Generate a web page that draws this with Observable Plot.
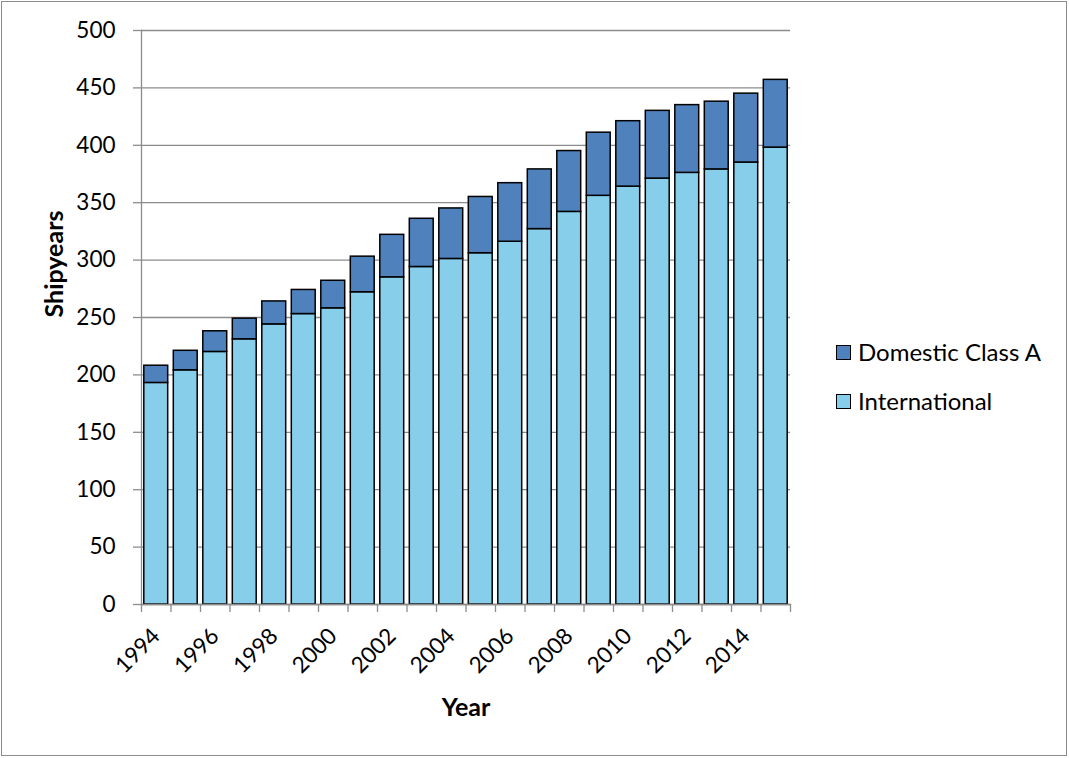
<!DOCTYPE html>
<html><head><meta charset="utf-8">
<script src="https://cdn.jsdelivr.net/npm/d3@7"></script>
<script src="https://cdn.jsdelivr.net/npm/@observablehq/plot@0.6"></script>
<style>
body{margin:0;background:#fff;}
#wrap{position:relative;width:1069px;height:758px;font-family:Lato,"Open Sans",sans-serif;background:#fff;}
#border{position:absolute;left:1px;top:1px;width:1066px;height:755px;border:1px solid #8c8c8c;box-sizing:border-box;pointer-events:none;}
.lg{position:absolute;left:836px;display:flex;align-items:center;font-size:24px;color:#000;white-space:nowrap;line-height:28px;}
.sw{width:13px;height:13px;border:1px solid #000;margin-right:7px;}
</style>
</head><body>
<div id="wrap"><div id="border"></div></div>
<script>
const years = ["1994","1995","1996","1997","1998","1999","2000","2001","2002","2003","2004","2005","2006","2007","2008","2009","2010","2011","2012","2013","2014","2015"];
const international = [193,204,220,231,244,253,258,272,285,294,301,306,316,327,342,356,364,371,376,379,385,398];
const domestic = [15,17,18,18,20,21,24,31,37,42,44,49,51,52,53,55,57,59,59,59,60,59];
const seriesNames = ["International","Domestic Class A"];
const seriesColors = ["#87ceeb","#4f81bd"];
const yTicks = [0,50,100,150,200,250,300,350,400,450,500];
const xTickLabels = ["1994","1996","1998","2000","2002","2004","2006","2008","2010","2012","2014"];

const rows = [];
years.forEach((y,i)=>{
  rows.push({year:y, series:seriesNames[0], value:international[i]});
  rows.push({year:y, series:seriesNames[1], value:domestic[i]});
});

const half = (790-141)/years.length/2;
const gap = half*0.19;
const grid = "#8c8c8c";

const chart = Plot.plot({
  width:1069, height:758,
  marginLeft:141, marginRight:279, marginTop:30, marginBottom:154,
  style:{fontFamily:"Lato, 'Open Sans', sans-serif", fontSize:"22.5px", color:"#000", background:"transparent", overflow:"visible"},
  x:{type:"band", domain:years, padding:0, round:false},
  y:{domain:[0,500]},
  color:{domain:seriesNames, range:seriesColors},
  marks:[
    Plot.gridY(yTicks, {stroke:grid, strokeOpacity:1, strokeWidth:1.3}),
    Plot.barY(rows, {x:"year", y:"value", fill:"series", stroke:"#000", strokeWidth:1.5, order:seriesNames, insetLeft:gap, insetRight:gap}),
    Plot.frame({anchor:"left", stroke:grid, strokeWidth:1.3}),
    Plot.frame({anchor:"bottom", stroke:grid, strokeWidth:1.3}),
    Plot.axisY({ticks:yTicks, tickSize:8, tickPadding:18, stroke:grid, strokeWidth:1.3, label:null, fontSize:22.5}),
    Plot.axisX({ticks:xTickLabels, tickSize:0, tickRotate:-45, tickPadding:28, label:null, fontSize:22.5}),
    Plot.ruleX(years, {x:d=>d, y1:0, y2:-7, dx:-half, stroke:grid, strokeWidth:1.3}),
    Plot.ruleX([years[years.length-1]], {x:d=>d, y1:0, y2:-7, dx:half, stroke:grid, strokeWidth:1.3}),
    Plot.text(["Shipyears"], {text:d=>d, frameAnchor:"left", dx:-87, rotate:-90, fontWeight:"bold", fontSize:25, fill:"#000"}),
    Plot.text(["Year"], {text:d=>d, frameAnchor:"bottom", dy:111, fontWeight:"bold", fontSize:25, fill:"#000"})
  ]
});
const wrap = document.getElementById("wrap");
chart.style.position="absolute"; chart.style.left="0"; chart.style.top="0";
wrap.insertBefore(chart, wrap.firstChild);

const legendItems = [seriesNames[1], seriesNames[0]];
const legendTops = [338, 387];
legendItems.forEach((name,i)=>{
  const d = document.createElement("div");
  d.className="lg"; d.style.top = legendTops[i]+"px";
  const sw = document.createElement("div"); sw.className="sw";
  sw.style.background = seriesColors[seriesNames.indexOf(name)];
  const t = document.createElement("span"); t.textContent = name;
  d.appendChild(sw); d.appendChild(t);
  wrap.appendChild(d);
});
</script>
</body></html>
